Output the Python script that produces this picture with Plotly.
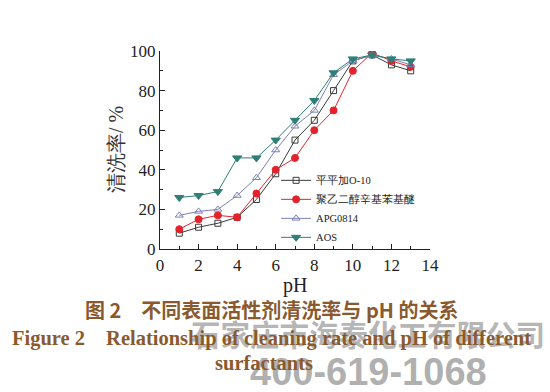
import plotly.graph_objects as go

ph = [1, 2, 3, 4, 5, 6, 7, 8, 9, 10, 11, 12, 13]
s_o10 = [8, 11, 13, 16, 25, 38, 55, 65, 80, 95, 98, 93, 90]
s_peg = [10, 15, 17, 16, 28, 40, 46, 60, 70, 90, 99, 95, 92]
s_apg = [17, 19, 20, 27, 36, 50, 62, 70, 88, 95, 98, 96, 93]
s_aos = [26, 27, 29, 46, 46, 55, 65, 75, 89, 96, 98, 96, 95]
names = ["平平加O-10", "聚乙二醇辛基苯基醚", "APG0814", "AOS"]
x_ticks = [0, 2, 4, 6, 8, 10, 12, 14]
y_ticks = [0, 20, 40, 60, 80, 100]

serif = "Liberation Serif"
brown = "#8a5a2e"

fig = go.Figure()
styles = [
    (s_o10, "#3a3a3a", "square-open", 6),
    (s_peg, "#e3232c", "circle", 7),
    (s_apg, "#7b80b5", "triangle-up-open", 7),
    (s_aos, "#2f7f76", "triangle-down", 8),
]
for (ys, col, sym, sz), nm in zip(styles, names):
    fig.add_trace(go.Scatter(
        x=ph, y=ys, name=nm, mode="lines+markers",
        line=dict(color=col, width=1),
        marker=dict(symbol=sym, size=sz, color=col, line=dict(color=col, width=1)),
    ))

axis_common = dict(
    showline=True, linecolor="#222", linewidth=1.2, showgrid=False, zeroline=False,
    ticks="inside", ticklen=5, tickwidth=1, tickcolor="#222",
    tickfont=dict(family=serif, size=17, color="#222"),
    mirror=False,
)
fig.update_xaxes(range=[0, 14], tickvals=x_ticks,
                 minor=dict(ticks="inside", ticklen=3, dtick=1, tickcolor="#222"),
                 **axis_common)
fig.update_yaxes(range=[0, 100], tickvals=y_ticks,
                 minor=dict(ticks="inside", ticklen=3, dtick=10, tickcolor="#222"),
                 **axis_common)

fig.update_layout(
    width=550, height=392,
    margin=dict(l=160, r=120, t=51, b=143),
    paper_bgcolor="white", plot_bgcolor="white",
    showlegend=True,
    legend=dict(x=0.43, y=0.42, xanchor="left", yanchor="top",
                bgcolor="rgba(0,0,0,0)", font=dict(family=serif, size=10.5, color="#222"),
                itemwidth=30, tracegroupgap=0),
)

annotations = [
    dict(text="清洗率/ %", x=116, y=150, textangle=-90, font=dict(family=serif, size=20, color="#333")),
    dict(text="pH", x=295, y=285, font=dict(family=serif, size=20, color="#222")),
    dict(text="<b>石家庄市海泰化工有限公司</b>", x=368, y=333,
         font=dict(family="Noto Sans CJK SC, sans-serif", size=29.5, color="rgba(150,150,150,0.7)")),
    dict(text="<b>400-619-1068</b>", x=368, y=372,
         font=dict(family="Liberation Sans, Arial, sans-serif", size=38, color="rgba(150,150,150,0.75)")),
    dict(text="<b>图 2　不同表面活性剂清洗率与 pH 的关系</b>", x=271, y=309,
         font=dict(family="Noto Sans CJK SC, sans-serif", size=20, color=brown)),
    dict(text="<b>Figure 2　Relationship of cleaning rate and pH of different</b>", x=271, y=338,
         font=dict(family=serif, size=20.5, color=brown)),
    dict(text="<b>surfactants</b>", x=264, y=363,
         font=dict(family=serif, size=20.5, color=brown)),
]
W, H = 550, 392
l, r, t, b = 160, 120, 51, 143
pw, ph_ = W - l - r, H - t - b
for a in annotations:
    fig.add_annotation(
        text=a["text"], x=(a["x"] - l) / pw, y=1 - (a["y"] - t) / ph_,
        xref="paper", yref="paper",
        showarrow=False, xanchor="center", yanchor="middle",
        textangle=a.get("textangle", 0), font=a["font"],
    )

fig.write_html("out.html")
